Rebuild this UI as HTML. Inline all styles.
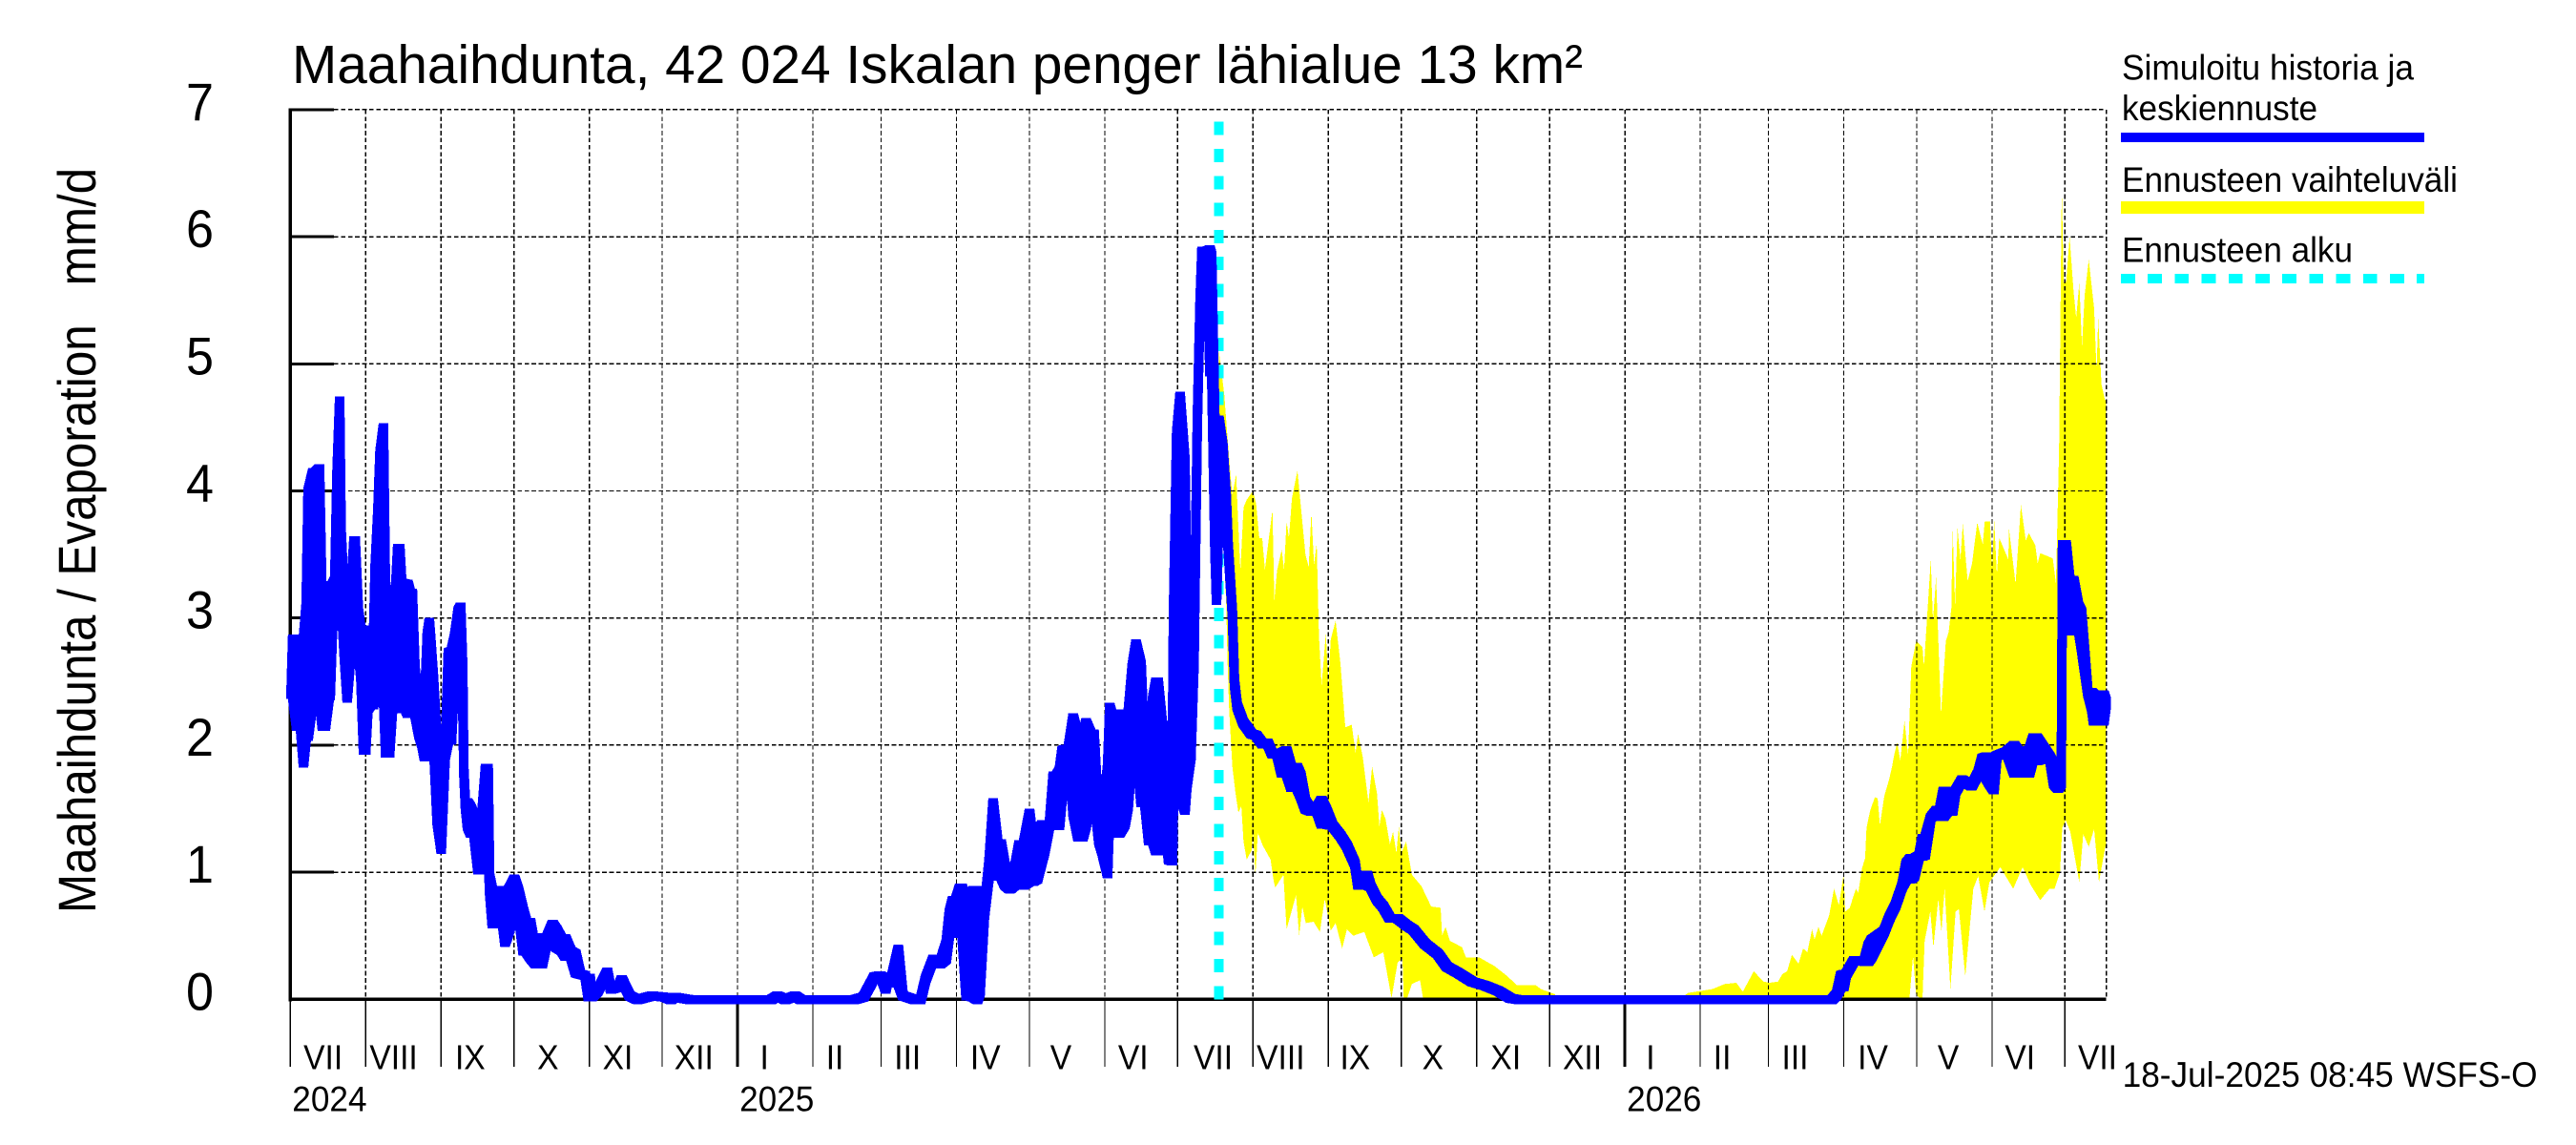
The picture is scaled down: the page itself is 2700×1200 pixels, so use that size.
<!DOCTYPE html>
<html lang="fi">
<head>
<meta charset="utf-8">
<title>Maahaihdunta, 42 024 Iskalan penger lähialue 13 km²</title>
<style>
html,body{margin:0;padding:0;background:#fff;}
svg{display:block;}
text{font-family:"Liberation Sans",Arial,sans-serif;fill:#000;white-space:pre;}
</style>
</head>
<body>
<svg id="chart" xmlns="http://www.w3.org/2000/svg" width="2700" height="1200" viewBox="0 0 2700 1200">
<rect x="0" y="0" width="2700" height="1200" fill="#fff"/>
<g id="band-layer"></g>
<g id="grid-layer"></g>
<g id="axis-layer"></g>
<g id="start-layer"></g>
<g id="line-layer"></g>
<text x="306" y="87" font-size="57" textLength="1353" lengthAdjust="spacingAndGlyphs">Maahaihdunta, 42 024 Iskalan penger lähialue 13 km²</text>
<text transform="translate(100,957) rotate(-90)" font-size="56" textLength="781" lengthAdjust="spacingAndGlyphs">Maahaihdunta / Evaporation   mm/d</text>
<g>
<text x="2224" y="83.5" font-size="37" textLength="306" lengthAdjust="spacingAndGlyphs">Simuloitu historia ja</text>
<text x="2224" y="126" font-size="37" textLength="205" lengthAdjust="spacingAndGlyphs">keskiennuste</text>
<rect x="2223" y="139" width="318" height="10" fill="#0000ff"/>
<text x="2224" y="201" font-size="37" textLength="352" lengthAdjust="spacingAndGlyphs">Ennusteen vaihteluväli</text>
<rect x="2223" y="211" width="318" height="13" fill="#ffff00"/>
<text x="2224" y="274.5" font-size="37" textLength="242" lengthAdjust="spacingAndGlyphs">Ennusteen alku</text>
<line x1="2223" y1="292" x2="2541" y2="292" stroke="#00ffff" stroke-width="10" stroke-dasharray="14.8 13.4" shape-rendering="crispEdges"/>
</g>
<text x="2224.6" y="1139" font-size="37" textLength="435" lengthAdjust="spacingAndGlyphs">18-Jul-2025 08:45 WSFS-O</text>
</svg>
<script>
// Axis categories and tick labels
const yTickValues = [0, 1, 2, 3, 4, 5, 6, 7];
const monthLengths = [31, 31, 30, 31, 30, 31, 31, 28, 31, 30, 31, 30, 31, 31, 30, 31, 30, 31, 31, 28, 31, 30, 31, 30];
const monthNames = ['VII','VIII','IX','X','XI','XII','I','II','III','IV','V','VI','VII','VIII','IX','X','XI','XII','I','II','III','IV','V','VI','VII'];
const monthLabelDays = [13.5,42.5,74,106,134.7,166,195,224,253.9,285.9,317,346.7,379.6,407.4,438,470,500,531.5,559.5,589,619,651,682,711.5,743.4];
const yearLabels = ['2024', '2025', '2026'];
const yearDays = [0, 184, 549];
const lastDay = 747;
const forecastStartDay = 382;

// Simulated history and mean forecast: days since 1 Jul 2024
const meanDays = [0.3,1,2.6,4.2,5.4,6.5,7.3,9.3,10.5,12,
13.2,14.4,16,16.4,17.3,18.3,19.2,20.3,20.9,22.2,
23.4,24.6,26.2,26.7,28,29,30.1,31,31.9,33,
34.3,34.9,36,36.9,38.3,39.2,40.3,40.8,42.4,43.4,
44.2,45,45.8,47.4,48.3,49.3,50.2,51.3,52.9,54.2,
55.2,56.3,57.2,57.8,58.9,60.4,62.1,63.7,65,66.3,
67.6,69.1,70.1,70.9,71.4,72,72.9,74.2,75.5,77.2,
78.8,80.3,81.4,82,83.1,84.7,86.6,88.3,89.8,92.2,
93.8,95.8,97.1,98.8,101,103.6,105.6,107.9,109.5,111.5,
113.2,115.4,117.4,119.3,121.3,122.6,123.3,124,126.5,130.4,
131.8,135,136.3,139.6,142.9,148.8,154,156.6,157.9,164.5,
197.8,200.4,203.7,207.6,210,232,235.8,240.3,242.9,244.9,
246,247.5,250.1,252,256.7,259.3,261.3,264.5,267.2,269.8,
271.1,272.4,273.7,275.4,276.3,278,279,280.9,282.6,283.7,
285.5,287.4,289.1,291,292.4,294,296,297.9,299.8,301.6,
304.1,305.5,307.3,309.3,310.3,312.3,313.8,315.1,316.4,317.5,
318.8,320,322,324,326,327.3,329.3,330.6,332.6,333.9,
336.2,337.1,339.1,341.1,343.3,344.7,346.3,347.9,350,351.5,
353.1,354.8,356.1,357,358.7,360,361.3,362.9,363.3,364.6,
366,368,368.8,370.5,371.8,372.1,373.1,374.2,375,377,
378.3,379,380.3,381,382,383.6,385,385.8,387.5,388.4,
389.5,392,395.4,397.3,400,402,404,405.8,407.8,409.8,
411.7,414.1,415.7,417.6,420.2,422,424.2,426,428.7,432,
434.6,437.9,439.2,441,443,444.4,447,449.6,452.3,455.5,
459.5,462,466.7,472,475.8,480.4,486.3,491.5,496.8,502,
505.3,634.1,636.1,637.8,639,640,643.3,645.8,647.5,649.1,
650.5,655.7,657.7,660.3,663,664.7,666.5,668,670,671.4,
672.5,674.8,677.3,678.5,680,681.5,683.8,685,687.7,691.6,
694.3,696,697.5,699,700.8,702,706,709.2,710.5,712,
713.3,715.3,717,718.5,723.7,725.4,727.2,727.7,728.5,729,
730.5,732,733.6,735.5,736.8,739.4,741,741.8,744,746,
747];
// Daily swing high (mm/d)
const meanHigh = [2.40,2.84,2.84,2.84,2.83,3.09,3.99,4.15,4.15,4.18,
2.99,2.99,2.99,3.26,3.26,3.3,4.12,4.71,3.67,3.13,
3.14,3.13,3.61,3.61,3.05,2.91,2.91,2.91,2.91,2.91,
2.91,3.39,3.82,4.29,4.5,3.13,3.13,3.13,3.13,3.26,
3.55,3.55,3.28,3.27,3.27,3.2,3.2,2.59,2.29,2.36,
2.29,2.86,2.97,2.81,2.51,2.01,1.95,1.95,2.73,2.74,
2.85,3.06,3.09,2.6,1.79,1.53,1.55,1.51,1.45,1.45,
1.45,1.82,1.82,0.96,0.86,0.86,0.86,0.86,0.86,0.95,
0.86,0.7,0.61,0.61,0.36,0.49,0.49,0.595,0.55,0.48,
0.48,0.38,0.36,0.2,0.19,0.02,0.17,0.02,0.07,0.22,
0.08,0.1,0.16,0.03,0,0.03,0.02,0,0.02,0,
0,0.03,0,0.03,0,0,0.02,0.18,0.19,0.08,
0.18,0.18,0.4,0.03,0,0,0.16,0.32,0.28,0.44,
0.68,0.78,0.78,0.88,0.88,0.76,0.76,0.86,0.86,0.71,
0.71,1.07,1.55,1.23,1.23,1.05,1.02,1.02,1.22,1.22,
1.47,1.25,1.32,1.38,1.38,1.38,1.76,1.76,1.8,1.96,
1.97,1.97,2.22,2.07,2.07,2.18,2.09,2.09,1.4,1.4,
1.82,2.3,2.16,2.25,2.25,2.25,2.61,2.8,2.63,1.91,
1.91,2.36,2.5,2.5,2.16,2.16,2.16,2.16,3.04,4.44,
4.75,4.23,3.14,3.14,3.14,3.16,4.56,5.47,5.89,5.89,
5.9,5.85,4.56,4.56,4.56,4.35,3.94,3.56,3.04,2.49,
2.31,2.18,2.09,2.08,2.01,2.02,1.93,1.94,1.94,1.96,
1.83,1.83,1.76,1.56,1.48,1.5,1.57,1.5,1.37,1.29,
1.21,1.07,0.9,0.98,0.98,0.89,0.79,0.73,0.64,0.64,
0.58,0.55,0.44,0.36,0.26,0.21,0.14,0.11,0.07,0.01,
0,0,0.04,0.19,0.2,0.2,0.31,0.31,0.3,0.42,
0.47,0.54,0.64,0.74,0.89,1.07,1.11,1.11,1.13,1.27,
1.27,1.43,1.49,1.49,1.64,1.64,1.6,1.64,1.73,1.68,
1.78,1.9,1.91,1.91,1.9,1.92,1.95,2.0,1.96,1.96,
1.96,1.96,2.06,2.06,1.91,1.85,1.66,1.68,1.7,3.58,
3.58,3.3,3.3,3.1,3.05,2.42,2.42,2.4,2.4,2.4,
2.34];
// Daily swing low (mm/d)
const meanLow = [2.40,2.40,2.15,2.15,1.86,2.07,2.07,2.36,2.36,2.36,
2.15,2.15,2.39,2.39,2.9,3.16,3.16,3.16,3.16,2.71,
2.37,2.66,2.76,2.76,2.76,2.55,1.96,1.96,2.29,2.32,
2.32,2.74,2.74,2.74,2.4,1.94,1.94,1.94,2.4,2.4,
2.4,2.29,2.29,2.29,2.25,2.25,2.25,2.25,2.09,2.01,
1.91,2.02,2.02,2.02,2.02,1.41,1.18,1.92,2.04,2.04,
2.56,2.56,2.56,2.35,1.79,1.53,1.37,1.31,1.31,1.02,
1.02,1.17,1.17,0.86,0.595,0.595,0.72,0.45,0.53,0.7,
0.7,0.38,0.38,0.33,0.28,0.28,0.46,0.46,0.41,0.39,
0.34,0.34,0.21,0.2,0.19,0.02,0.17,0.02,0.07,0.22,
0.08,0.1,0.16,0.03,0,0.03,0.02,0,0.02,0,
0,0.03,0,0.03,0,0,0.02,0.18,0.19,0.08,
0.18,0.13,0.13,0.03,0,0,0.16,0.32,0.28,0.32,
0.52,0.52,0.52,0.52,0.52,0.03,0.03,0.02,0,0.06,
0.67,0.97,0.97,0.97,0.97,0.9,0.87,0.9,0.9,0.9,
0.93,0.93,0.95,1.1,1.17,1.37,1.37,1.37,1.37,1.6,
1.87,1.97,1.47,1.28,1.28,1.37,1.6,1.6,1.25,1.17,
0.99,1.5,1.31,1.31,1.38,1.53,1.97,1.97,1.55,1.55,
1.25,1.25,1.17,1.17,1.35,1.35,1.1,1.09,1.61,1.61,
1.61,1.49,1.69,1.92,2.68,3.16,4.56,5.47,5.89,5.89,
4.94,4.94,3.58,3.14,3.82,4.35,3.94,3.56,3.04,2.49,
2.31,2.18,2.09,2.08,2.01,2.02,1.93,1.94,1.78,1.78,
1.67,1.67,1.6,1.5,1.48,1.5,1.38,1.38,1.37,1.29,
1.21,1.07,0.9,0.9,0.9,0.89,0.79,0.73,0.64,0.64,
0.58,0.55,0.44,0.36,0.26,0.21,0.14,0.11,0.07,0.01,
0,0,0.04,0.1,0.1,0.2,0.31,0.31,0.3,0.3,
0.34,0.54,0.64,0.74,0.89,0.95,0.95,0.97,1.13,1.13,
1.14,1.43,1.49,1.44,1.44,1.48,1.48,1.64,1.73,1.68,
1.78,1.9,1.75,1.7,1.65,1.92,1.95,1.78,1.78,1.78,
1.78,1.78,1.9,1.88,1.91,1.7,1.66,1.68,1.7,3.58,
2.95,2.9,2.9,2.93,2.77,2.42,2.3,2.19,2.19,2.19,
2.34];

// Forecast range, upper edge
const upperDays = [382,384.2,385.5,386.8,387.5,389.1,389.8,390.8,392.1,393.4,396,397.3,398.6,399.8,400.9,404,404.8,405.9,407.8,408.8,409.8,410.8,412,414.3,415.6,417.6,418.9,420,421.1,422.2,423.1,424.2,426,427,428,430,432,434,436.6,438.2,439.2,441.2,443.5,445,447,448,449,450.5,452.3,453.6,455,456,457,459,461.4,465.3,469.3,473.2,473.8,475.2,477,482,483.6,489,495.5,500.7,504.6,512.4,514.4,520.3,521,571.6,575,585,590,594.8,597.5,602,606,608.6,612,613.8,615.7,617.7,620.4,622.3,624,626,627,628.6,629.9,633,635,637,639,639.6,641.5,644,645,646.5,647.8,648.4,649.8,651.8,653,653.9,655.7,657.7,659,659.6,661,662.3,664,665.5,666.8,668.8,671.4,672,674.8,675.7,677,679,681,682.2,683.3,683.8,684.8,685.8,687,688,690,691.8,693.9,696.2,697,699.2,700,700.9,702,703,706.7,707,709.7,711.9,713.9,715.2,717.8,718.8,719.8,725,726.3,727.6,728.2,728.7,729.5,730.5,731.9,733.5,734.6,735.9,737,738.1,739.8,742,743,743.7,745,746.4,747];
const upperValues = [5.1,4.76,4.42,4.1,3.97,4.13,3.8,3.37,3.87,3.93,4.0,3.9,3.63,3.63,3.38,3.85,3.14,3.37,3.54,3.38,3.76,3.63,3.94,4.16,3.9,3.5,3.4,3.83,3.42,3.59,2.87,2.47,2.88,2.49,2.83,2.98,2.64,2.14,2.16,1.94,2.09,1.9,1.55,1.83,1.62,1.36,1.49,1.42,1.22,1.32,1.15,1.36,1.15,1.24,0.98,0.89,0.73,0.72,0.5,0.57,0.46,0.41,0.33,0.33,0.26,0.18,0.11,0.11,0.08,0.04,0,0,0.05,0.08,0.12,0.13,0.06,0.22,0.14,0.13,0.14,0.2,0.22,0.35,0.28,0.4,0.37,0.55,0.47,0.57,0.5,0.66,0.87,0.74,0.99,0.69,0.72,0.87,0.84,1.03,1.11,1.35,1.48,1.59,1.58,1.37,1.6,1.73,1.84,1.91,2.02,1.88,2.19,1.92,2.62,2.82,2.77,2.62,3.46,2.98,3.32,2.24,2.82,2.89,3.08,3.72,3.1,3.71,3.46,3.74,3.29,3.43,3.75,3.58,3.76,3.76,3.38,3.77,3.34,3.63,3.46,3.7,3.27,3.89,3.61,3.67,3.57,3.43,3.51,3.47,3.27,4.33,5.52,6.39,5.64,5.64,6.0,5.58,5.36,5.64,5.14,5.54,5.82,5.44,4.94,5.36,4.84,4.72,4.7];

// Forecast range, lower edge
const lowerDays = [382,383.4,385,385.5,386.2,387.5,388.8,390,391.2,392.1,393.4,395.4,396,397,398,400,403.2,404.5,405.2,408.5,409.8,413.7,415,416.3,417.7,420.9,423.5,425.5,428,430,432.7,434.6,437.3,441.8,445.7,449.6,453,455.5,457.5,458,459.4,461.4,464.7,466,666,667.5,668.8,671.4,672.3,674.6,675.9,677.9,679.2,680.5,682.9,685,686.4,689,692.3,694.3,696.9,698.9,703.4,708.7,712.6,715.9,719.8,723.7,725.7,728,728.9,730.3,732.2,735.9,737.5,739.8,742,744,746.6,747];
const lowerValues = [4.5,3.8,3.1,2.66,2.28,1.83,1.62,1.47,1.52,1.24,1.1,1.17,1.31,0.98,1.31,1.21,1.1,0.93,0.88,0.98,0.55,0.82,0.5,0.73,0.6,0.61,0.53,0.79,0.54,0.6,0.4,0.55,0.5,0.53,0.33,0.37,0.01,0.29,0.32,0.01,0.01,0.12,0.15,0,0,0.34,0.03,0,0.46,0.69,0.41,0.79,0.53,0.87,0.08,0.69,0.71,0.18,0.87,0.97,0.69,0.92,1.04,0.87,1.04,0.9,0.78,0.87,0.87,1.0,1.35,1.41,1.32,0.92,1.3,1.2,1.34,0.92,1.2,1.2];

const SVG_NS = 'http://www.w3.org/2000/svg';
function xScale(day) { return 304.3 + day * 2.548; }
function yScale(value) { return 1047.3 - value * 133.2; }
function make(tag, parentId) {
  const node = document.createElementNS(SVG_NS, tag);
  document.getElementById(parentId).appendChild(node);
  return node;
}
function setLine(node, x1, y1, x2, y2, width, dash) {
  node.setAttribute('x1', x1);
  node.setAttribute('y1', y1);
  node.setAttribute('x2', x2);
  node.setAttribute('y2', y2);
  node.setAttribute('stroke', '#000');
  node.setAttribute('stroke-width', width);
  if (dash) node.setAttribute('stroke-dasharray', dash);
  node.setAttribute('shape-rendering', 'crispEdges');
}
function condense(label, ratio) {
  label.setAttribute('textLength', (label.getComputedTextLength() * ratio).toFixed(2));
  label.setAttribute('lengthAdjust', 'spacingAndGlyphs');
}
// Convex outline covering two neighbouring pen columns
function columnHull(ax, aTop, aBottom, bx, bTop, bBottom) {
  const penLeft = -5, penRight = 5, penTop = -4.2, penBottom = 5;
  const corners = [
    [ax + penLeft, aTop + penTop], [ax + penRight, aTop + penTop],
    [ax + penRight, aBottom + penBottom], [ax + penLeft, aBottom + penBottom],
    [bx + penLeft, bTop + penTop], [bx + penRight, bTop + penTop],
    [bx + penRight, bBottom + penBottom], [bx + penLeft, bBottom + penBottom]
  ];
  corners.sort(function (p, q) { return p[0] - q[0] || p[1] - q[1]; });
  const cross = function (o, p, q) { return (p[0] - o[0]) * (q[1] - o[1]) - (p[1] - o[1]) * (q[0] - o[0]); };
  const hull = [];
  corners.forEach(function (p) {
    while (hull.length >= 2 && cross(hull[hull.length - 2], hull[hull.length - 1], p) <= 0) hull.pop();
    hull.push(p);
  });
  const floor = hull.length + 1;
  for (let i = corners.length - 2; i >= 0; i--) {
    while (hull.length >= floor && cross(hull[hull.length - 2], hull[hull.length - 1], corners[i]) <= 0) hull.pop();
    hull.push(corners[i]);
  }
  hull.pop();
  return 'M' + hull.map(function (p) { return p[0].toFixed(1) + ' ' + p[1].toFixed(1); }).join('L') + 'Z';
}

// Forecast range band
const band = make('polygon', 'band-layer');


const bandPoints = [];
upperDays.forEach(function (d, i) { bandPoints.push(xScale(d).toFixed(1) + ',' + yScale(upperValues[i]).toFixed(1)); });
for (let i = lowerDays.length - 1; i >= 0; i--) { bandPoints.push(xScale(lowerDays[i]).toFixed(1) + ',' + yScale(lowerValues[i]).toFixed(1)); }
band.setAttribute('points', bandPoints.join(' '));
band.setAttribute('fill', '#ffff00');
band.setAttribute('shape-rendering', 'crispEdges');

// Tick boundaries from month lengths
const monthStarts = [0];
monthLengths.forEach(function (len, i) { monthStarts.push(monthStarts[i] + len); });

// Horizontal grid and y ticks
yTickValues.forEach(function (v) {
  if (v > 0) {
    const grid = make('line', 'grid-layer');
    
    
    setLine(grid, 350, yScale(v), xScale(lastDay), yScale(v), 1.4, '4.7 2.7');
    const tick = make('line', 'axis-layer');
    
    
    setLine(tick, xScale(0), yScale(v), 350, yScale(v), 3);
  }
  const label = make('text', 'axis-layer');
  
  
  label.setAttribute('x', 224);
  label.setAttribute('y', yScale(v) + 11);
  label.setAttribute('font-size', 56);
  label.setAttribute('text-anchor', 'end');
  label.textContent = String(v);
  condense(label, 0.93);
});

// Vertical grid and month ticks
monthStarts.forEach(function (d) {
  if (d > 0) {
    const grid = make('line', 'grid-layer');
    
    
    setLine(grid, xScale(d), yScale(7), xScale(d), yScale(0), 1.2, '4.7 2.7');
  }
  const tick = make('line', 'axis-layer');
  
  
  setLine(tick, xScale(d), yScale(0), xScale(d), 1118, yearDays.indexOf(d) > 0 ? 3 : 1.2);
});
const rightGrid = make('line', 'grid-layer');


setLine(rightGrid, xScale(lastDay), yScale(7), xScale(lastDay), yScale(0), 1.2, '4.7 2.7');

// Axis lines
const yAxisLine = make('line', 'axis-layer');


setLine(yAxisLine, xScale(0), yScale(7) - 1.5, xScale(0), yScale(0) + 2, 3.5);
const xAxisLine = make('line', 'axis-layer');


setLine(xAxisLine, xScale(0), yScale(0), xScale(lastDay), yScale(0), 3.5);

// Month and year labels
monthNames.forEach(function (name, i) {
  const label = make('text', 'axis-layer');
  
  
  label.setAttribute('x', xScale(monthLabelDays[i]));
  label.setAttribute('y', 1120.5);
  label.setAttribute('font-size', 36.5);
  label.setAttribute('text-anchor', 'middle');
  label.textContent = name;
  condense(label, 0.92);
});
yearLabels.forEach(function (name, i) {
  const label = make('text', 'axis-layer');
  
  
  label.setAttribute('x', xScale(yearDays[i]) + 2);
  label.setAttribute('y', 1164.5);
  label.setAttribute('font-size', 37);
  label.textContent = name;
  condense(label, 0.95);
});

// Forecast start marker
const startLine = make('line', 'start-layer');


startLine.setAttribute('x1', xScale(forecastStartDay));
startLine.setAttribute('x2', xScale(forecastStartDay));
startLine.setAttribute('y1', yScale(0));
startLine.setAttribute('y2', 127);
startLine.setAttribute('stroke', '#00ffff');
startLine.setAttribute('stroke-width', 10);
startLine.setAttribute('stroke-dasharray', '14 14.3');
startLine.setAttribute('shape-rendering', 'crispEdges');

// Mean line, swept by a rectangular pen between swing high and low
const meanLine = make('path', 'line-layer');


let meanPath = '';
for (let i = 1; i < meanDays.length; i++) {
  meanPath += columnHull(xScale(meanDays[i - 1]), yScale(meanHigh[i - 1]), yScale(meanLow[i - 1]), xScale(meanDays[i]), yScale(meanHigh[i]), yScale(meanLow[i]));
}
meanLine.setAttribute('d', meanPath);
meanLine.setAttribute('fill', '#0000ff');
meanLine.setAttribute('shape-rendering', 'crispEdges');
</script>
</body>
</html>
